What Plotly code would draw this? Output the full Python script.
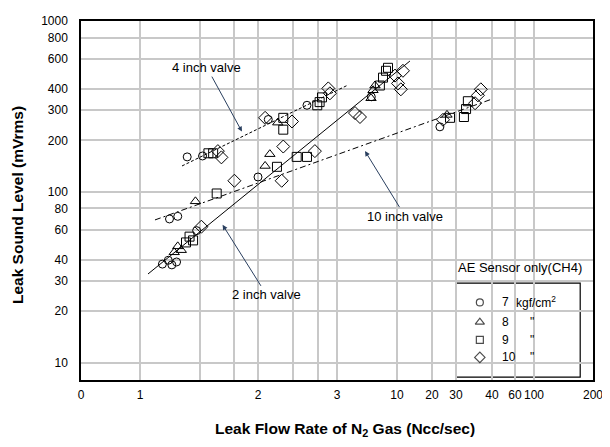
import numpy as np
import plotly.graph_objects as go

# ---- axis description (the x axis of the original is a piecewise scale) ----
TICK_VALUES = [0, 1, 2, 3, 10, 20, 30, 40, 60, 100, 200]
TICK_LABELS = [str(v) for v in TICK_VALUES]
TICK_POS = [0, 0.1152, 0.3457, 0.5, 0.6172, 0.6855, 0.7324, 0.8027, 0.8477, 0.8848, 1.0]
EXTRA_GRID_FLOW = [1.51, 1.80, 2.44, 2.76]
Y_TICKS = [10, 20, 30, 40, 60, 80, 100, 200, 300, 400, 600, 800, 1000]

# ---- data: leak flow rate (Ncc/sec) and leak sound level (mVrms) ----
p7_flow = [1.19, 1.24, 1.27, 1.31, 1.48, 1.25, 1.32, 2.0, 1.40, 1.53, 2.13, 2.62, 23.3, 7.0]
p7_level = [37.7, 39.7, 37.3, 38.8, 59.2, 69.3, 71.8, 122, 160, 162, 265, 321, 240, 360]

p8_flow = [1.29, 1.32, 1.35, 1.47, 2.09, 2.15, 2.25, 6.97, 7.2, 7.43, 26.25]
p8_level = [44.2, 47.9, 45.5, 87.9, 141.6, 166, 254, 353, 393, 419, 282]

p9_flow = [1.39, 1.42, 1.45, 1.65, 2.24, 2.49, 2.62, 1.58, 1.62, 2.32, 2.32, 2.75, 2.78, 2.81,
           8.0, 8.37, 8.72, 8.95, 27.5, 32.2, 32.8, 33.3]
p9_level = [50.5, 54.6, 51.9, 97.7, 140, 160, 160, 168, 168, 271, 231, 321, 335, 357,
            419, 466, 511, 532, 271, 274, 305, 339]

p10_flow = [1.52, 1.80, 2.30, 2.32, 2.72, 1.66, 1.69, 2.09, 2.43, 2.89, 2.91,
            9.77, 10.29, 11.1, 11.7, 5.1, 5.68, 24.6, 35.3, 36.1, 36.9]
p10_level = [62.4, 116, 116, 184, 173, 173, 159, 271, 258, 403, 377,
             479, 431, 398, 511, 289, 274, 264, 330, 367, 398]

# fitted lines (end points)
fit2_flow, fit2_level = [1.068, 13.7], [33, 583]
fit4_flow, fit4_level = [1.356, 4.17], [141.6, 419]
fit10_flow, fit10_level = [1.127, 40], [68.4, 349]

LEGEND_NUMBERS = ["7", "8", "9", "10"]
LEGEND_UNITS = ["kgf/cm<sup>2</sup>", "\"", "\"", "\""]


def fx(v):
    return np.interp(v, TICK_VALUES, TICK_POS)


fig = go.Figure()

for fl, lv, dash in [(fit2_flow, fit2_level, "solid"),
                     (fit4_flow, fit4_level, "3px,2px"),
                     (fit10_flow, fit10_level, "6px,3px,2px,3px")]:
    fig.add_trace(go.Scatter(x=fx(fl), y=lv, mode="lines", showlegend=False,
                             line=dict(color="black", width=1, dash=dash), hoverinfo="skip"))

series = [
    (p7_flow, p7_level, "circle-open", 8),
    (p8_flow, p8_level, "triangle-up-open", 9),
    (p9_flow, p9_level, "square-open", 9),
    (p10_flow, p10_level, "diamond-open", 10),
]
for (fl, lv, sym, size), num in zip(series, LEGEND_NUMBERS):
    fig.add_trace(go.Scatter(x=fx(fl), y=lv, mode="markers", name=num, showlegend=False,
                             marker=dict(symbol=sym, size=size, color="black",
                                         line=dict(color="black", width=1))))

# legend key drawn inside its own frame (overlay axes in fractional units)
LEG_ROWS = [0.216, 0.161, 0.112, 0.063]
fig.add_trace(go.Scatter(x=[0.779] * 4, y=LEG_ROWS, mode="markers", showlegend=False,
                         xaxis="x2", yaxis="y2", hoverinfo="skip",
                         marker=dict(symbol=[s[2] for s in series], size=[7, 8, 7, 8],
                                     color="black", line=dict(color="black", width=1.2))))

grid_vals = list(fx(TICK_VALUES)) + list(fx(EXTRA_GRID_FLOW))
grid_text = TICK_LABELS + [""] * len(EXTRA_GRID_FLOW)

font = "Liberation Sans, Arial, sans-serif"
fig.update_layout(
    width=602, height=439,
    margin=dict(l=73, r=17, t=6, b=67),
    paper_bgcolor="white", plot_bgcolor="white",
    font=dict(family=font, size=12, color="black"),
    showlegend=False,
    xaxis=dict(range=[0, 1], tickmode="array", tickvals=grid_vals, ticktext=grid_text,
               showgrid=True, gridcolor="#c8c8c8", gridwidth=1.5, zeroline=False,
               showline=True, mirror=True, linecolor="black", linewidth=1.5,
               ticks="", ticklabelstandoff=3, tickangle=0, ticklabeloverflow="allow",
               tickfont=dict(size=12)),
    yaxis=dict(type="log", range=[np.log10(7.9), 3], tickmode="array", tickvals=Y_TICKS,
               ticktext=[str(v) for v in Y_TICKS],
               showgrid=True, gridcolor="#c8c8c8", gridwidth=1.5, zeroline=False,
               showline=True, mirror=True, linecolor="black", linewidth=1.5,
               ticks="", ticklabelstandoff=9, tickfont=dict(size=12)),
    xaxis2=dict(overlaying="x", range=[0, 1], visible=False, fixedrange=True),
    yaxis2=dict(overlaying="y", range=[0, 1], visible=False, fixedrange=True),
)

# legend frame
fig.add_shape(type="rect", xref="paper", yref="paper", x0=0.732, x1=0.975, y0=0.008, y1=0.270,
              line=dict(color="black", width=1.2), fillcolor="white", layer="below")

anns = [
    dict(text="AE Sensor only(CH4)", xref="paper", yref="paper", x=0.983, y=0.313,
         xanchor="right", yanchor="middle", showarrow=False, font=dict(size=13)),
    dict(text="<b>Leak Sound Level (mVrms)</b>", xref="paper", yref="paper", x=-0.124, y=0.486,
         textangle=-90, showarrow=False, font=dict(size=15.5), xanchor="center", yanchor="middle"),
    dict(text="<b>Leak Flow Rate of N<sub>2</sub> Gas (Ncc/sec)</b>", xref="paper", yref="paper",
         x=0.516, y=-0.137, showarrow=False, font=dict(size=15.5), xanchor="center",
         yanchor="middle"),
    dict(text="4 inch valve", x=float(fx(1.864)), y=np.log10(225), ax=-35, ay=-64,
         showarrow=True, arrowhead=2, arrowsize=1, arrowwidth=1, font=dict(size=13)),
    dict(text="2 inch valve", x=float(fx(1.70)), y=np.log10(64), ax=44, ay=70,
         showarrow=True, arrowhead=2, arrowsize=1, arrowwidth=1, font=dict(size=13)),
    dict(text="10 inch valve", x=float(fx(6.27)), y=np.log10(173), ax=40, ay=65,
         showarrow=True, arrowhead=2, arrowsize=1, arrowwidth=1, font=dict(size=13)),
]
for num, unit, ry in zip(LEGEND_NUMBERS, LEGEND_UNITS, LEG_ROWS):
    anns.append(dict(text=num, xref="paper", yref="paper", x=0.818, y=ry, xanchor="left",
                     yanchor="middle", showarrow=False, font=dict(size=12)))
    ux = 0.846 if unit.startswith("kgf") else 0.874
    anns.append(dict(text=unit, xref="paper", yref="paper", x=ux, y=ry, xanchor="left",
                     yanchor="middle", showarrow=False, font=dict(size=12)))
for a in anns:
    fig.add_annotation(**a)

fig.write_html("out.html")
